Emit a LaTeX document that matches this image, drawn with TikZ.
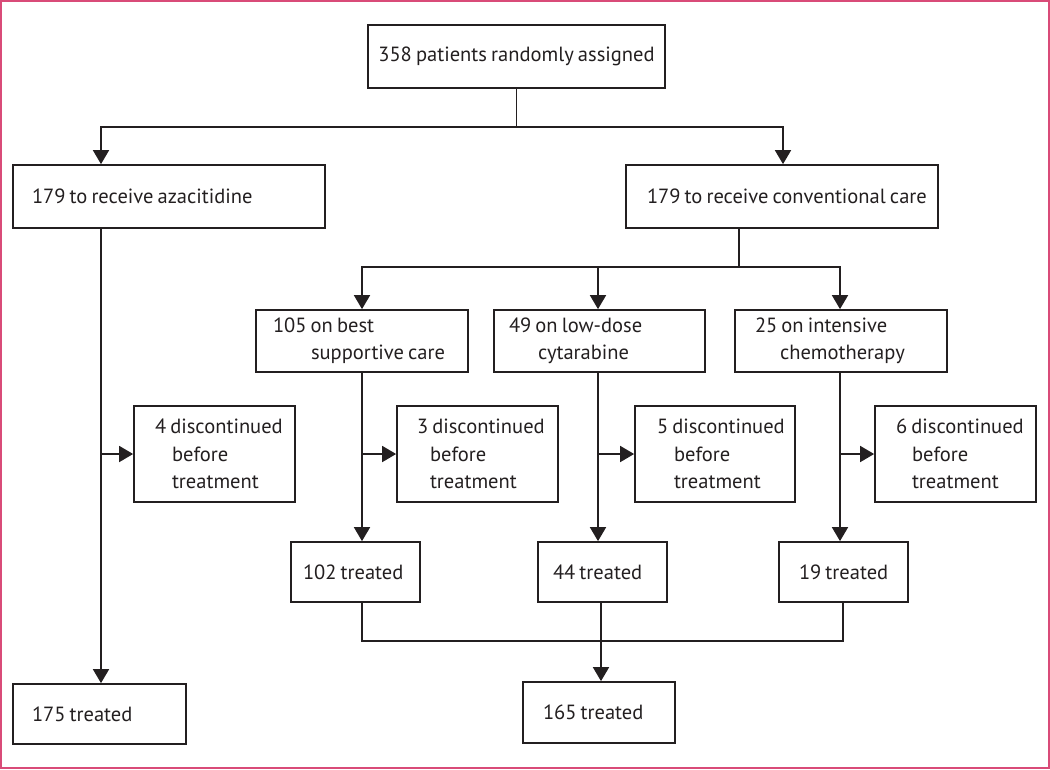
\documentclass[tikz,border=0pt]{standalone}
\usepackage{fontspec}
\setmainfont{PT Sans}
\usetikzlibrary{arrows.meta}
\definecolor{linec}{RGB}{35,31,32}
\definecolor{framec}{RGB}{217,75,120}
\newcommand\boxfont{\fontsize{15.4pt}{20.5pt}\selectfont\spaceskip=0.2em\relax}
\newcommand\lin[2]{\hspace*{#1}\mbox{\boxfont #2}}
\begin{document}
\begin{tikzpicture}[x=0.75pt,y=-0.75pt,
  box/.style={draw=linec, line width=1.3pt, inner xsep=0pt, inner ysep=0pt, align=left,
    font=\boxfont, text=linec},
  conn/.style={draw=linec, line width=1.3pt},
  arr/.style={conn, -{Triangle[length=10.5pt,width=12pt]}}]
\useasboundingbox (0,0) rectangle (1050,769);
\draw[framec, line width=1.2pt] (1,1) rectangle (1049,768);

% boxes
\node[box, text width=222.75pt, minimum height=47.25pt, align=center] (top) at (516.5,56.5) {\boxfont 358 patients randomly assigned};
\node[box, text width=234pt, minimum height=47.25pt] (aza) at (169,196.5) {\lin{14.25pt}{179 to receive azacitidine}};
\node[box, text width=234pt, minimum height=47.25pt] (conv) at (782,196.5) {\lin{15.75pt}{179 to receive conventional care}};

\node[box, text width=159pt, minimum height=46.5pt] (bsc) at (362,341) {\lin{12.75pt}{105 on best}\\\lin{41.25pt}{supportive care}};
\node[box, text width=158.25pt, minimum height=46.5pt] (ldc) at (599.5,341) {\lin{11.25pt}{49 on low-dose}\\\lin{33pt}{cytarabine}};
\node[box, text width=159pt, minimum height=46.5pt] (ic) at (841,341) {\lin{15pt}{25 on intensive}\\\lin{33.75pt}{chemotherapy}};

\node[box, text width=120.75pt, minimum height=72pt] (d4) at (214.5,454) {\lin{15.75pt}{4 discontinued}\\\lin{28.5pt}{before}\\\lin{28.5pt}{treatment}};
\node[box, text width=120.75pt, minimum height=72pt] (d3) at (477.5,454) {\lin{15pt}{3 discontinued}\\\lin{24.75pt}{before}\\\lin{24.75pt}{treatment}};
\node[box, text width=120pt, minimum height=72pt] (d5) at (715,454) {\lin{16.5pt}{5 discontinued}\\\lin{29.25pt}{before}\\\lin{29.25pt}{treatment}};
\node[box, text width=120.75pt, minimum height=72pt] (d6) at (955.5,454) {\lin{15.75pt}{6 discontinued}\\\lin{27.75pt}{before}\\\lin{27.75pt}{treatment}};

\node[box, text width=96.75pt, minimum height=45pt] (t102) at (355.5,572) {\lin{9pt}{102 treated}};
\node[box, text width=96.75pt, minimum height=45pt] (t44) at (602.5,572) {\lin{11.25pt}{44 treated}};
\node[box, text width=96.75pt, minimum height=45pt] (t19) at (843.5,572) {\lin{15pt}{19 treated}};
\node[box, text width=129.75pt, minimum height=45pt] (t175) at (99.5,714) {\lin{14.25pt}{175 treated}};
\node[box, text width=114pt, minimum height=45.75pt] (t165) at (599,712.5) {\lin{15pt}{165 treated}};

% column / junction coordinates
\coordinate (xA) at (101,0);
\coordinate (xC) at (783,0);
\coordinate (xB) at (362,0);
\coordinate (xL) at (598,0);
\coordinate (xI) at (840,0);
\coordinate (xM) at (601,0);
\coordinate (xT) at (843,0);
\coordinate (j1) at (516.5,127);
\coordinate (j2) at (739,267);
\coordinate (j3) at (0,641);

% top split
\draw[conn] (top.south) -- (j1);
\draw[arr] (j1) -| (aza.north -| xA);
\draw[arr] (j1) -| (conv.north -| xC);

% azacitidine arm
\draw[arr] (aza.south -| xA) -- (t175.north -| xA);
\draw[arr] (xA |- d4.west) -- (d4.west);

% conventional care split
\draw[conn] (conv.south -| j2) -- (j2);
\draw[arr] (j2) -| (bsc.north -| xB);
\draw[arr] (j2) -- (xL |- j2) -- (ldc.north -| xL);
\draw[arr] (j2) -| (ic.north -| xI);

% branches
\draw[arr] (bsc.south -| xB) -- (t102.north -| xB);
\draw[arr] (xB |- d3.west) -- (d3.west);
\draw[arr] (ldc.south -| xL) -- (t44.north -| xL);
\draw[arr] (xL |- d5.west) -- (d5.west);
\draw[arr] (ic.south -| xI) -- (t19.north -| xI);
\draw[arr] (xI |- d6.west) -- (d6.west);

% merge
\draw[conn] (t102.south -| xB) -- (xB |- j3) -- (xT |- j3) -- (t19.south -| xT);
\draw[arr] (t44.south -| xM) -- (t165.north -| xM);
\end{tikzpicture}
\end{document}
